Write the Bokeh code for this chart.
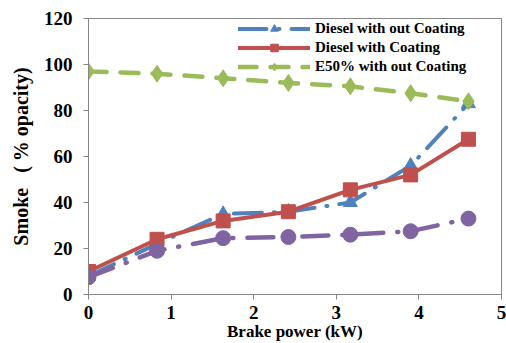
from bokeh.plotting import figure
from bokeh.models import FixedTicker, Legend, LegendItem, Range1d
from bokeh.embed import file_html
from bokeh.resources import INLINE

power = [0, 0.83, 1.63, 2.42, 3.17, 3.9, 4.6]
diesel_no_coat = [8, 22, 35, 36, 40, 56, 83]
diesel_coat = [10, 24, 32, 36, 45.5, 52, 67.5]
e50_no_coat = [97, 96, 94, 92, 90.5, 87.5, 84]
e50_coat = [7.5, 19, 24.5, 25, 26, 27.5, 33]

x_ticks = [0, 1, 2, 3, 4, 5]
y_ticks = [0, 20, 40, 60, 80, 100, 120]

BLUE = "#4F81BD"
RED = "#C0504D"
GREEN = "#9BBB59"
PURPLE = "#8064A2"
GRAY = "#868686"
FONT = "Liberation Serif"

p = figure(width=506, height=343, output_backend="svg", toolbar_location=None,
           x_range=Range1d(0, 5), y_range=Range1d(0, 120),
           min_border_left=88, min_border_right=5, min_border_top=18, min_border_bottom=10)
p.grid.visible = False
p.outline_line_color = GRAY
p.background_fill_color = "white"
p.border_fill_color = "white"

for ax in (p.xaxis[0], p.yaxis[0]):
    ax.axis_line_color = GRAY
    ax.major_tick_line_color = GRAY
    ax.minor_tick_line_color = None
    ax.major_tick_out = 5
    ax.major_tick_in = 0
    ax.major_label_text_font = FONT
    ax.major_label_text_font_style = "bold"
    ax.major_label_text_font_size = "19px"
    ax.major_label_text_color = "black"

p.xaxis.ticker = FixedTicker(ticks=x_ticks)
p.yaxis.ticker = FixedTicker(ticks=y_ticks)
p.xaxis.major_label_standoff = 6
p.yaxis.major_label_standoff = 11

p.yaxis.axis_label = "Smoke\u00a0\u00a0 ( % opacity)"
p.yaxis.axis_label_text_font = FONT
p.yaxis.axis_label_text_font_style = "bold"
p.yaxis.axis_label_text_font_size = "20px"
p.yaxis.axis_label_text_color = "black"
p.yaxis.axis_label_standoff = 9

p.xaxis.axis_label = "Brake power (kW)"
p.xaxis.axis_label_text_font = FONT
p.xaxis.axis_label_text_font_style = "bold"
p.xaxis.axis_label_text_font_size = "17px"
p.xaxis.axis_label_text_color = "black"
p.xaxis.axis_label_standoff = 0

l1 = p.line(power, diesel_no_coat, line_color=BLUE, line_width=4, line_dash="28 12 1 12", line_cap="round")
m1 = p.scatter(power, diesel_no_coat, marker="triangle", size=14, color=BLUE)
l2 = p.line(power, diesel_coat, line_color=RED, line_width=4, line_cap="round")
m2 = p.scatter(power, diesel_coat, marker="square", size=14, color=RED)
l3 = p.line(power, e50_no_coat, line_color=GREEN, line_width=4.5, line_dash="18 14", line_cap="round")
m3 = p.scatter(power, e50_no_coat, marker="diamond", size=17, color=GREEN)
l4 = p.line(power, e50_coat, line_color=PURPLE, line_width=4.5, line_dash="26 14 1 14", line_cap="round")
m4 = p.scatter(power, e50_coat, marker="circle", size=15, color=PURPLE)

legend = Legend(items=[
    LegendItem(label="Diesel with out Coating", renderers=[l1, m1]),
    LegendItem(label="Diesel with Coating", renderers=[l2, m2]),
    LegendItem(label="E50% with out Coating", renderers=[l3, m3]),
], location=(150, 218))
legend.background_fill_alpha = 0
legend.border_line_color = None
legend.label_text_font = FONT
legend.label_text_font_style = "bold"
legend.label_text_font_size = "15px"
legend.label_text_color = "black"
legend.glyph_width = 72
legend.glyph_height = 19
legend.label_height = 19
legend.label_standoff = 5
legend.spacing = 0
legend.padding = 0
legend.margin = 0
p.add_layout(legend)

open("out.html", "w").write(file_html(p, INLINE))
